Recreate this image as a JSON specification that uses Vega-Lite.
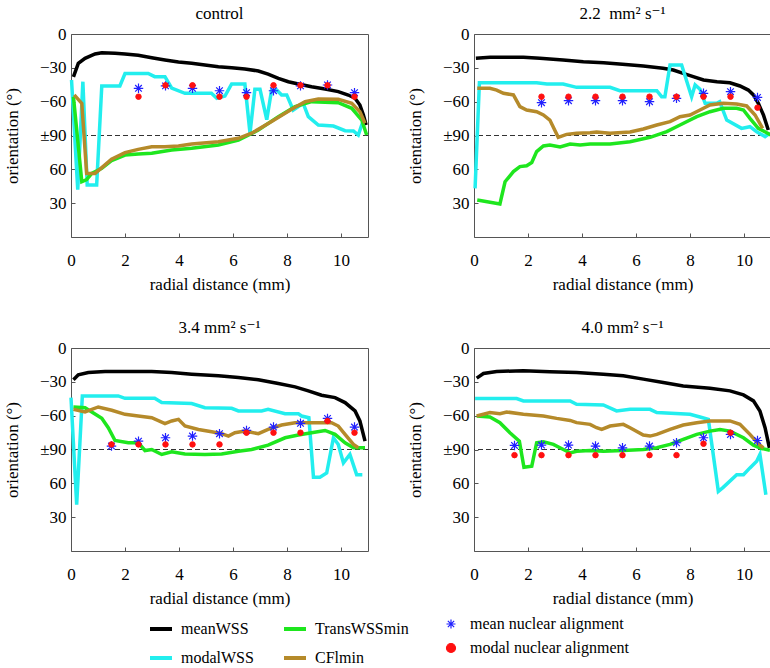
{
"$schema": "https://vega.github.io/schema/vega-lite/v6.json",
"padding": {"left": 2, "top": 4, "right": 5, "bottom": 0},
"config": {
 "font": "Liberation Serif, DejaVu Serif, serif",
 "view": {"stroke": "#555555", "strokeWidth": 1},
 "axis": {"labelFont": "Liberation Serif, DejaVu Serif, serif", "labelFontSize": 17, "titleFont": "Liberation Serif, DejaVu Serif, serif", "titleFontSize": 17, "titleFontWeight": "normal", "labelColor": "#000", "titleColor": "#000", "tickColor": "#555555", "domain": false, "grid": false, "tickSize": -4, "labelOverlap": false, "labelSeparation": 0},
 "axisY": {"labelOverlap": false},
 "axisX": {"labelOverlap": false, "labelFlush": false},
 "axisQuantitative": {"labelOverlap": false},
 "title": {"font": "Liberation Serif, DejaVu Serif, serif", "fontSize": 17, "fontWeight": "normal", "color": "#000", "offset": 2},
 "legend": {"labelFont": "Liberation Serif, DejaVu Serif, serif", "labelFontSize": 16, "labelColor": "#000"}
},
"datasets": {
"L": [
{"p":"c","s":"meanWSS","x":0.09,"d":38},{"p":"c","s":"meanWSS","x":0.27,"d":26},{"p":"c","s":"meanWSS","x":0.52,"d":21.6},{"p":"c","s":"meanWSS","x":0.89,"d":17.7},{"p":"c","s":"meanWSS","x":1.14,"d":16.6},{"p":"c","s":"meanWSS","x":1.63,"d":17.1},{"p":"c","s":"meanWSS","x":2,"d":17.7},{"p":"c","s":"meanWSS","x":2.49,"d":18.9},{"p":"c","s":"meanWSS","x":2.99,"d":21},{"p":"c","s":"meanWSS","x":3.48,"d":23},{"p":"c","s":"meanWSS","x":3.98,"d":24.8},{"p":"c","s":"meanWSS","x":4.47,"d":26},{"p":"c","s":"meanWSS","x":4.96,"d":27.5},{"p":"c","s":"meanWSS","x":5.46,"d":29},{"p":"c","s":"meanWSS","x":5.95,"d":29.9},{"p":"c","s":"meanWSS","x":6.44,"d":31},{"p":"c","s":"meanWSS","x":6.94,"d":32.8},{"p":"c","s":"meanWSS","x":7.3,"d":35.5},{"p":"c","s":"meanWSS","x":7.68,"d":39.3},{"p":"c","s":"meanWSS","x":8.05,"d":42.3},{"p":"c","s":"meanWSS","x":8.42,"d":44.3},{"p":"c","s":"meanWSS","x":8.91,"d":46.7},{"p":"c","s":"meanWSS","x":9.41,"d":48.8},{"p":"c","s":"meanWSS","x":9.9,"d":51.1},{"p":"c","s":"meanWSS","x":10.27,"d":54.1},{"p":"c","s":"meanWSS","x":10.52,"d":57},{"p":"c","s":"meanWSS","x":10.7,"d":63},{"p":"c","s":"meanWSS","x":10.83,"d":71.8},{"p":"c","s":"meanWSS","x":10.93,"d":80.7},
{"p":"c","s":"modalWSS","x":0.02,"d":40.8},{"p":"c","s":"modalWSS","x":0.25,"d":138},{"p":"c","s":"modalWSS","x":0.44,"d":42.3},{"p":"c","s":"modalWSS","x":0.6,"d":134},{"p":"c","s":"modalWSS","x":0.95,"d":134},{"p":"c","s":"modalWSS","x":1.14,"d":46},{"p":"c","s":"modalWSS","x":1.81,"d":46},{"p":"c","s":"modalWSS","x":2,"d":35},{"p":"c","s":"modalWSS","x":2.86,"d":35},{"p":"c","s":"modalWSS","x":3.1,"d":37.8},{"p":"c","s":"modalWSS","x":3.48,"d":37.8},{"p":"c","s":"modalWSS","x":3.73,"d":48},{"p":"c","s":"modalWSS","x":4.22,"d":52.6},{"p":"c","s":"modalWSS","x":5.2,"d":52.6},{"p":"c","s":"modalWSS","x":5.4,"d":57},{"p":"c","s":"modalWSS","x":5.7,"d":55},{"p":"c","s":"modalWSS","x":5.95,"d":44.3},{"p":"c","s":"modalWSS","x":6.44,"d":44.3},{"p":"c","s":"modalWSS","x":6.63,"d":88},{"p":"c","s":"modalWSS","x":6.81,"d":49},{"p":"c","s":"modalWSS","x":7,"d":49},{"p":"c","s":"modalWSS","x":7.25,"d":76},{"p":"c","s":"modalWSS","x":7.43,"d":49.7},{"p":"c","s":"modalWSS","x":7.62,"d":49.7},{"p":"c","s":"modalWSS","x":7.8,"d":54},{"p":"c","s":"modalWSS","x":7.99,"d":54},{"p":"c","s":"modalWSS","x":8.23,"d":67.4},{"p":"c","s":"modalWSS","x":8.6,"d":61.5},{"p":"c","s":"modalWSS","x":8.79,"d":73.3},{"p":"c","s":"modalWSS","x":9.16,"d":80.7},{"p":"c","s":"modalWSS","x":9.72,"d":81.6},{"p":"c","s":"modalWSS","x":10.15,"d":85.7},{"p":"c","s":"modalWSS","x":10.46,"d":86},{"p":"c","s":"modalWSS","x":10.64,"d":89.6},{"p":"c","s":"modalWSS","x":10.83,"d":76.3},
{"p":"c","s":"TransWSSmin","x":0.09,"d":55.6},{"p":"c","s":"TransWSSmin","x":0.4,"d":131},{"p":"c","s":"TransWSSmin","x":0.58,"d":129},{"p":"c","s":"TransWSSmin","x":0.77,"d":123.6},{"p":"c","s":"TransWSSmin","x":1.14,"d":119},{"p":"c","s":"TransWSSmin","x":1.5,"d":112.3},{"p":"c","s":"TransWSSmin","x":2,"d":107.3},{"p":"c","s":"TransWSSmin","x":2.49,"d":106.4},{"p":"c","s":"TransWSSmin","x":2.99,"d":105.8},{"p":"c","s":"TransWSSmin","x":3.73,"d":102.9},{"p":"c","s":"TransWSSmin","x":4.47,"d":101.4},{"p":"c","s":"TransWSSmin","x":5.46,"d":98.4},{"p":"c","s":"TransWSSmin","x":6.2,"d":94},{"p":"c","s":"TransWSSmin","x":6.94,"d":85.1},{"p":"c","s":"TransWSSmin","x":7.68,"d":73.3},{"p":"c","s":"TransWSSmin","x":8.3,"d":64.4},{"p":"c","s":"TransWSSmin","x":8.91,"d":60},{"p":"c","s":"TransWSSmin","x":9.9,"d":60.9},{"p":"c","s":"TransWSSmin","x":10.4,"d":65.9},{"p":"c","s":"TransWSSmin","x":10.77,"d":76.3},{"p":"c","s":"TransWSSmin","x":10.95,"d":89.6},
{"p":"c","s":"CFlmin","x":0.12,"d":54},{"p":"c","s":"CFlmin","x":0.4,"d":61.5},{"p":"c","s":"CFlmin","x":0.58,"d":123.6},{"p":"c","s":"CFlmin","x":0.89,"d":123.6},{"p":"c","s":"CFlmin","x":1.26,"d":116},{"p":"c","s":"CFlmin","x":1.5,"d":111},{"p":"c","s":"CFlmin","x":2,"d":105.2},{"p":"c","s":"CFlmin","x":2.49,"d":102.3},{"p":"c","s":"CFlmin","x":2.99,"d":100},{"p":"c","s":"CFlmin","x":3.48,"d":100},{"p":"c","s":"CFlmin","x":3.98,"d":99.3},{"p":"c","s":"CFlmin","x":4.47,"d":97.5},{"p":"c","s":"CFlmin","x":5.46,"d":95.5},{"p":"c","s":"CFlmin","x":6.2,"d":92.5},{"p":"c","s":"CFlmin","x":6.69,"d":88},{"p":"c","s":"CFlmin","x":7.43,"d":77.6},{"p":"c","s":"CFlmin","x":8.17,"d":66.8},{"p":"c","s":"CFlmin","x":8.67,"d":60},{"p":"c","s":"CFlmin","x":9.16,"d":57.6},{"p":"c","s":"CFlmin","x":9.9,"d":57.9},{"p":"c","s":"CFlmin","x":10.4,"d":61.5},{"p":"c","s":"CFlmin","x":10.7,"d":68.9},{"p":"c","s":"CFlmin","x":10.89,"d":79.2},
{"p":"2.2","s":"meanWSS","x":0.07,"d":21.6},{"p":"2.2","s":"meanWSS","x":0.6,"d":20.7},{"p":"2.2","s":"meanWSS","x":1.83,"d":20.7},{"p":"2.2","s":"meanWSS","x":2.44,"d":21.6},{"p":"2.2","s":"meanWSS","x":3.3,"d":23},{"p":"2.2","s":"meanWSS","x":4.05,"d":24.5},{"p":"2.2","s":"meanWSS","x":4.8,"d":25.4},{"p":"2.2","s":"meanWSS","x":5.5,"d":26.9},{"p":"2.2","s":"meanWSS","x":6.27,"d":28.4},{"p":"2.2","s":"meanWSS","x":7,"d":30.4},{"p":"2.2","s":"meanWSS","x":7.38,"d":31.9},{"p":"2.2","s":"meanWSS","x":7.75,"d":34.9},{"p":"2.2","s":"meanWSS","x":8.12,"d":37.8},{"p":"2.2","s":"meanWSS","x":8.5,"d":40.8},{"p":"2.2","s":"meanWSS","x":9,"d":42.3},{"p":"2.2","s":"meanWSS","x":9.48,"d":43.2},{"p":"2.2","s":"meanWSS","x":9.85,"d":46.1},{"p":"2.2","s":"meanWSS","x":10.16,"d":49.7},{"p":"2.2","s":"meanWSS","x":10.35,"d":54},{"p":"2.2","s":"meanWSS","x":10.53,"d":61.5},{"p":"2.2","s":"meanWSS","x":10.72,"d":71.8},{"p":"2.2","s":"meanWSS","x":10.9,"d":85.1},
{"p":"2.2","s":"modalWSS","x":0.04,"d":136.9},{"p":"2.2","s":"modalWSS","x":0.2,"d":43.2},{"p":"2.2","s":"modalWSS","x":2.32,"d":43.2},{"p":"2.2","s":"modalWSS","x":2.7,"d":44.3},{"p":"2.2","s":"modalWSS","x":3.3,"d":44.3},{"p":"2.2","s":"modalWSS","x":3.8,"d":47.3},{"p":"2.2","s":"modalWSS","x":5.04,"d":47.3},{"p":"2.2","s":"modalWSS","x":5.4,"d":50.3},{"p":"2.2","s":"modalWSS","x":6.77,"d":50.3},{"p":"2.2","s":"modalWSS","x":6.95,"d":55.6},{"p":"2.2","s":"modalWSS","x":7.07,"d":55.6},{"p":"2.2","s":"modalWSS","x":7.26,"d":27.5},{"p":"2.2","s":"modalWSS","x":7.69,"d":27.5},{"p":"2.2","s":"modalWSS","x":8.06,"d":55.6},{"p":"2.2","s":"modalWSS","x":8.19,"d":45.2},{"p":"2.2","s":"modalWSS","x":8.37,"d":49},{"p":"2.2","s":"modalWSS","x":8.56,"d":61.5},{"p":"2.2","s":"modalWSS","x":8.99,"d":61.5},{"p":"2.2","s":"modalWSS","x":9.1,"d":60},{"p":"2.2","s":"modalWSS","x":9.36,"d":76.3},{"p":"2.2","s":"modalWSS","x":9.91,"d":83.7},{"p":"2.2","s":"modalWSS","x":10.22,"d":82.2},{"p":"2.2","s":"modalWSS","x":10.47,"d":86.6},{"p":"2.2","s":"modalWSS","x":10.78,"d":91},{"p":"2.2","s":"modalWSS","x":10.96,"d":88},
{"p":"2.2","s":"TransWSSmin","x":0.12,"d":147.2},{"p":"2.2","s":"TransWSSmin","x":0.96,"d":150.7},{"p":"2.2","s":"TransWSSmin","x":1.15,"d":131},{"p":"2.2","s":"TransWSSmin","x":1.46,"d":122},{"p":"2.2","s":"TransWSSmin","x":1.7,"d":117.6},{"p":"2.2","s":"TransWSSmin","x":1.95,"d":116.8},{"p":"2.2","s":"TransWSSmin","x":2.14,"d":114},{"p":"2.2","s":"TransWSSmin","x":2.32,"d":104.3},{"p":"2.2","s":"TransWSSmin","x":2.57,"d":99.3},{"p":"2.2","s":"TransWSSmin","x":2.81,"d":98.4},{"p":"2.2","s":"TransWSSmin","x":3.19,"d":100.2},{"p":"2.2","s":"TransWSSmin","x":3.56,"d":97.5},{"p":"2.2","s":"TransWSSmin","x":3.93,"d":98.4},{"p":"2.2","s":"TransWSSmin","x":4.3,"d":97.5},{"p":"2.2","s":"TransWSSmin","x":5.04,"d":97.5},{"p":"2.2","s":"TransWSSmin","x":5.78,"d":95.5},{"p":"2.2","s":"TransWSSmin","x":6.52,"d":91.6},{"p":"2.2","s":"TransWSSmin","x":7.14,"d":86.6},{"p":"2.2","s":"TransWSSmin","x":7.63,"d":80.7},{"p":"2.2","s":"TransWSSmin","x":8.25,"d":73.3},{"p":"2.2","s":"TransWSSmin","x":8.74,"d":68.9},{"p":"2.2","s":"TransWSSmin","x":9.23,"d":65.9},{"p":"2.2","s":"TransWSSmin","x":9.73,"d":65.9},{"p":"2.2","s":"TransWSSmin","x":9.98,"d":67.4},{"p":"2.2","s":"TransWSSmin","x":10.22,"d":74.8},{"p":"2.2","s":"TransWSSmin","x":10.53,"d":83.7},{"p":"2.2","s":"TransWSSmin","x":10.84,"d":87.5},{"p":"2.2","s":"TransWSSmin","x":11,"d":89.6},
{"p":"2.2","s":"CFlmin","x":0.12,"d":48.2},{"p":"2.2","s":"CFlmin","x":0.59,"d":48.2},{"p":"2.2","s":"CFlmin","x":0.84,"d":49.7},{"p":"2.2","s":"CFlmin","x":1.09,"d":52.6},{"p":"2.2","s":"CFlmin","x":1.46,"d":54},{"p":"2.2","s":"CFlmin","x":1.7,"d":64.4},{"p":"2.2","s":"CFlmin","x":1.95,"d":67.4},{"p":"2.2","s":"CFlmin","x":2.32,"d":68.9},{"p":"2.2","s":"CFlmin","x":2.57,"d":71.8},{"p":"2.2","s":"CFlmin","x":2.81,"d":76.3},{"p":"2.2","s":"CFlmin","x":3.12,"d":91.6},{"p":"2.2","s":"CFlmin","x":3.43,"d":89},{"p":"2.2","s":"CFlmin","x":3.8,"d":88},{"p":"2.2","s":"CFlmin","x":4.3,"d":87.5},{"p":"2.2","s":"CFlmin","x":4.54,"d":86.9},{"p":"2.2","s":"CFlmin","x":5.04,"d":88},{"p":"2.2","s":"CFlmin","x":5.78,"d":86.9},{"p":"2.2","s":"CFlmin","x":6.27,"d":84.2},{"p":"2.2","s":"CFlmin","x":6.77,"d":80.7},{"p":"2.2","s":"CFlmin","x":7.26,"d":77.7},{"p":"2.2","s":"CFlmin","x":7.63,"d":73.3},{"p":"2.2","s":"CFlmin","x":8,"d":71.8},{"p":"2.2","s":"CFlmin","x":8.37,"d":67.4},{"p":"2.2","s":"CFlmin","x":8.74,"d":63},{"p":"2.2","s":"CFlmin","x":9.23,"d":61.5},{"p":"2.2","s":"CFlmin","x":9.73,"d":62},{"p":"2.2","s":"CFlmin","x":10.1,"d":63.8},{"p":"2.2","s":"CFlmin","x":10.41,"d":71.8},{"p":"2.2","s":"CFlmin","x":10.69,"d":83.7},
{"p":"3.4","s":"meanWSS","x":0.09,"d":28.2},{"p":"3.4","s":"meanWSS","x":0.27,"d":23.8},{"p":"3.4","s":"meanWSS","x":0.64,"d":21.7},{"p":"3.4","s":"meanWSS","x":1.26,"d":20.8},{"p":"3.4","s":"meanWSS","x":2,"d":20.8},{"p":"3.4","s":"meanWSS","x":2.99,"d":20.8},{"p":"3.4","s":"meanWSS","x":3.73,"d":21.7},{"p":"3.4","s":"meanWSS","x":4.47,"d":23.2},{"p":"3.4","s":"meanWSS","x":5.46,"d":24.7},{"p":"3.4","s":"meanWSS","x":6.2,"d":26.1},{"p":"3.4","s":"meanWSS","x":6.94,"d":28.2},{"p":"3.4","s":"meanWSS","x":7.68,"d":31.5},{"p":"3.4","s":"meanWSS","x":8.3,"d":34.5},{"p":"3.4","s":"meanWSS","x":8.79,"d":38},{"p":"3.4","s":"meanWSS","x":9.28,"d":41.9},{"p":"3.4","s":"meanWSS","x":9.78,"d":44},{"p":"3.4","s":"meanWSS","x":10.15,"d":48.4},{"p":"3.4","s":"meanWSS","x":10.52,"d":55.8},{"p":"3.4","s":"meanWSS","x":10.7,"d":64.7},{"p":"3.4","s":"meanWSS","x":10.89,"d":82.6},
{"p":"3.4","s":"modalWSS","x":0,"d":44},{"p":"3.4","s":"modalWSS","x":0.21,"d":139},{"p":"3.4","s":"modalWSS","x":0.42,"d":42.5},{"p":"3.4","s":"modalWSS","x":1.75,"d":42.5},{"p":"3.4","s":"modalWSS","x":2,"d":44.6},{"p":"3.4","s":"modalWSS","x":3.1,"d":44.6},{"p":"3.4","s":"modalWSS","x":3.36,"d":48.4},{"p":"3.4","s":"modalWSS","x":4.47,"d":49.3},{"p":"3.4","s":"modalWSS","x":4.96,"d":52.9},{"p":"3.4","s":"modalWSS","x":5.95,"d":53.5},{"p":"3.4","s":"modalWSS","x":6.2,"d":55.8},{"p":"3.4","s":"modalWSS","x":7.06,"d":55.8},{"p":"3.4","s":"modalWSS","x":7.3,"d":54.4},{"p":"3.4","s":"modalWSS","x":7.93,"d":58.2},{"p":"3.4","s":"modalWSS","x":8.42,"d":58.2},{"p":"3.4","s":"modalWSS","x":8.54,"d":60.3},{"p":"3.4","s":"modalWSS","x":8.81,"d":61.8},{"p":"3.4","s":"modalWSS","x":8.98,"d":114.6},{"p":"3.4","s":"modalWSS","x":9.22,"d":114.6},{"p":"3.4","s":"modalWSS","x":9.47,"d":110.8},{"p":"3.4","s":"modalWSS","x":9.72,"d":79.6},{"p":"3.4","s":"modalWSS","x":9.9,"d":85.5},{"p":"3.4","s":"modalWSS","x":10.09,"d":101.9},{"p":"3.4","s":"modalWSS","x":10.33,"d":94.4},{"p":"3.4","s":"modalWSS","x":10.58,"d":112.3},{"p":"3.4","s":"modalWSS","x":10.79,"d":112.3},
{"p":"3.4","s":"TransWSSmin","x":0.09,"d":52.3},{"p":"3.4","s":"TransWSSmin","x":0.52,"d":52.9},{"p":"3.4","s":"TransWSSmin","x":1.14,"d":62.4},{"p":"3.4","s":"TransWSSmin","x":1.38,"d":70.7},{"p":"3.4","s":"TransWSSmin","x":1.63,"d":82},{"p":"3.4","s":"TransWSSmin","x":2.12,"d":84},{"p":"3.4","s":"TransWSSmin","x":2.49,"d":84},{"p":"3.4","s":"TransWSSmin","x":2.74,"d":90.9},{"p":"3.4","s":"TransWSSmin","x":2.99,"d":90},{"p":"3.4","s":"TransWSSmin","x":3.36,"d":94.4},{"p":"3.4","s":"TransWSSmin","x":3.73,"d":92.1},{"p":"3.4","s":"TransWSSmin","x":4.22,"d":93.9},{"p":"3.4","s":"TransWSSmin","x":4.96,"d":94.4},{"p":"3.4","s":"TransWSSmin","x":5.58,"d":93.9},{"p":"3.4","s":"TransWSSmin","x":6.2,"d":91.5},{"p":"3.4","s":"TransWSSmin","x":6.69,"d":90},{"p":"3.4","s":"TransWSSmin","x":7.3,"d":86.1},{"p":"3.4","s":"TransWSSmin","x":7.93,"d":79.6},{"p":"3.4","s":"TransWSSmin","x":8.42,"d":77.2},{"p":"3.4","s":"TransWSSmin","x":8.91,"d":75.1},{"p":"3.4","s":"TransWSSmin","x":9.41,"d":73.1},{"p":"3.4","s":"TransWSSmin","x":9.78,"d":76.6},{"p":"3.4","s":"TransWSSmin","x":10.15,"d":84},{"p":"3.4","s":"TransWSSmin","x":10.46,"d":88.5},{"p":"3.4","s":"TransWSSmin","x":10.89,"d":88.5},
{"p":"3.4","s":"CFlmin","x":0.09,"d":54.4},{"p":"3.4","s":"CFlmin","x":0.52,"d":56.7},{"p":"3.4","s":"CFlmin","x":1.01,"d":52.3},{"p":"3.4","s":"CFlmin","x":1.51,"d":55.2},{"p":"3.4","s":"CFlmin","x":2,"d":58.8},{"p":"3.4","s":"CFlmin","x":2.49,"d":60.3},{"p":"3.4","s":"CFlmin","x":2.99,"d":61.8},{"p":"3.4","s":"CFlmin","x":3.48,"d":67.1},{"p":"3.4","s":"CFlmin","x":3.73,"d":64.7},{"p":"3.4","s":"CFlmin","x":3.98,"d":63.3},{"p":"3.4","s":"CFlmin","x":4.22,"d":69.2},{"p":"3.4","s":"CFlmin","x":4.72,"d":72.2},{"p":"3.4","s":"CFlmin","x":5.21,"d":74.3},{"p":"3.4","s":"CFlmin","x":5.58,"d":76},{"p":"3.4","s":"CFlmin","x":5.83,"d":78.1},{"p":"3.4","s":"CFlmin","x":6.07,"d":75.1},{"p":"3.4","s":"CFlmin","x":6.44,"d":73.7},{"p":"3.4","s":"CFlmin","x":6.94,"d":76},{"p":"3.4","s":"CFlmin","x":7.3,"d":72.2},{"p":"3.4","s":"CFlmin","x":7.8,"d":68.3},{"p":"3.4","s":"CFlmin","x":8.3,"d":66.2},{"p":"3.4","s":"CFlmin","x":8.91,"d":66.2},{"p":"3.4","s":"CFlmin","x":9.65,"d":66.2},{"p":"3.4","s":"CFlmin","x":9.9,"d":69.2},{"p":"3.4","s":"CFlmin","x":10.15,"d":76.6},{"p":"3.4","s":"CFlmin","x":10.46,"d":85.5},{"p":"3.4","s":"CFlmin","x":10.64,"d":88.5},
{"p":"4.0","s":"meanWSS","x":0.1,"d":26.7},{"p":"4.0","s":"meanWSS","x":0.35,"d":22.6},{"p":"4.0","s":"meanWSS","x":0.84,"d":20.8},{"p":"4.0","s":"meanWSS","x":1.83,"d":20.2},{"p":"4.0","s":"meanWSS","x":2.81,"d":21.1},{"p":"4.0","s":"meanWSS","x":3.8,"d":21.7},{"p":"4.0","s":"meanWSS","x":4.79,"d":23.2},{"p":"4.0","s":"meanWSS","x":5.53,"d":24.7},{"p":"4.0","s":"meanWSS","x":6.27,"d":27.6},{"p":"4.0","s":"meanWSS","x":7.01,"d":30.6},{"p":"4.0","s":"meanWSS","x":7.75,"d":33.6},{"p":"4.0","s":"meanWSS","x":8.74,"d":35.6},{"p":"4.0","s":"meanWSS","x":9.48,"d":38},{"p":"4.0","s":"meanWSS","x":9.98,"d":41.6},{"p":"4.0","s":"meanWSS","x":10.35,"d":46.9},{"p":"4.0","s":"meanWSS","x":10.59,"d":55.8},{"p":"4.0","s":"meanWSS","x":10.78,"d":70.7},{"p":"4.0","s":"meanWSS","x":10.94,"d":88.5},
{"p":"4.0","s":"modalWSS","x":0.04,"d":44.8},{"p":"4.0","s":"modalWSS","x":1.58,"d":44.8},{"p":"4.0","s":"modalWSS","x":1.83,"d":46.9},{"p":"4.0","s":"modalWSS","x":3.56,"d":46.9},{"p":"4.0","s":"modalWSS","x":3.8,"d":49.9},{"p":"4.0","s":"modalWSS","x":4.79,"d":50.5},{"p":"4.0","s":"modalWSS","x":5.28,"d":55.8},{"p":"4.0","s":"modalWSS","x":5.78,"d":54.4},{"p":"4.0","s":"modalWSS","x":6.52,"d":54.4},{"p":"4.0","s":"modalWSS","x":6.77,"d":57.3},{"p":"4.0","s":"modalWSS","x":8,"d":58.8},{"p":"4.0","s":"modalWSS","x":8.37,"d":61.2},{"p":"4.0","s":"modalWSS","x":8.68,"d":63.3},{"p":"4.0","s":"modalWSS","x":9.05,"d":127.1},{"p":"4.0","s":"modalWSS","x":9.23,"d":123.6},{"p":"4.0","s":"modalWSS","x":9.73,"d":112.3},{"p":"4.0","s":"modalWSS","x":9.98,"d":112.3},{"p":"4.0","s":"modalWSS","x":10.22,"d":106.3},{"p":"4.0","s":"modalWSS","x":10.47,"d":100.4},{"p":"4.0","s":"modalWSS","x":10.59,"d":94.4},{"p":"4.0","s":"modalWSS","x":10.81,"d":130.1},
{"p":"4.0","s":"TransWSSmin","x":0.1,"d":60.3},{"p":"4.0","s":"TransWSSmin","x":0.59,"d":61.2},{"p":"4.0","s":"TransWSSmin","x":0.96,"d":66.2},{"p":"4.0","s":"TransWSSmin","x":1.33,"d":75.1},{"p":"4.0","s":"TransWSSmin","x":1.68,"d":82.6},{"p":"4.0","s":"TransWSSmin","x":1.85,"d":105.7},{"p":"4.0","s":"TransWSSmin","x":2.14,"d":104.8},{"p":"4.0","s":"TransWSSmin","x":2.32,"d":84},{"p":"4.0","s":"TransWSSmin","x":2.57,"d":83.2},{"p":"4.0","s":"TransWSSmin","x":2.94,"d":85.5},{"p":"4.0","s":"TransWSSmin","x":3.31,"d":90},{"p":"4.0","s":"TransWSSmin","x":3.56,"d":93},{"p":"4.0","s":"TransWSSmin","x":3.8,"d":91.5},{"p":"4.0","s":"TransWSSmin","x":4.3,"d":90.9},{"p":"4.0","s":"TransWSSmin","x":4.79,"d":91.5},{"p":"4.0","s":"TransWSSmin","x":5.53,"d":90.9},{"p":"4.0","s":"TransWSSmin","x":6.27,"d":90},{"p":"4.0","s":"TransWSSmin","x":6.77,"d":88.5},{"p":"4.0","s":"TransWSSmin","x":7.26,"d":85.5},{"p":"4.0","s":"TransWSSmin","x":7.75,"d":81.1},{"p":"4.0","s":"TransWSSmin","x":8.25,"d":76.6},{"p":"4.0","s":"TransWSSmin","x":8.74,"d":73.7},{"p":"4.0","s":"TransWSSmin","x":9.11,"d":72.2},{"p":"4.0","s":"TransWSSmin","x":9.48,"d":73.7},{"p":"4.0","s":"TransWSSmin","x":9.98,"d":79.6},{"p":"4.0","s":"TransWSSmin","x":10.35,"d":86.1},{"p":"4.0","s":"TransWSSmin","x":10.65,"d":89.1},{"p":"4.0","s":"TransWSSmin","x":10.96,"d":90.6},
{"p":"4.0","s":"CFlmin","x":0.1,"d":60.3},{"p":"4.0","s":"CFlmin","x":0.59,"d":57.3},{"p":"4.0","s":"CFlmin","x":0.96,"d":58.2},{"p":"4.0","s":"CFlmin","x":1.21,"d":56.7},{"p":"4.0","s":"CFlmin","x":1.83,"d":58.8},{"p":"4.0","s":"CFlmin","x":2.57,"d":60.3},{"p":"4.0","s":"CFlmin","x":3.06,"d":62.4},{"p":"4.0","s":"CFlmin","x":3.56,"d":64.2},{"p":"4.0","s":"CFlmin","x":3.8,"d":66.2},{"p":"4.0","s":"CFlmin","x":4.3,"d":67.7},{"p":"4.0","s":"CFlmin","x":4.54,"d":70.7},{"p":"4.0","s":"CFlmin","x":4.73,"d":72.2},{"p":"4.0","s":"CFlmin","x":5.04,"d":69.2},{"p":"4.0","s":"CFlmin","x":5.53,"d":67.7},{"p":"4.0","s":"CFlmin","x":5.78,"d":70.7},{"p":"4.0","s":"CFlmin","x":6.27,"d":77.2},{"p":"4.0","s":"CFlmin","x":6.52,"d":78.1},{"p":"4.0","s":"CFlmin","x":6.77,"d":76.6},{"p":"4.0","s":"CFlmin","x":7.26,"d":72.2},{"p":"4.0","s":"CFlmin","x":7.75,"d":68.3},{"p":"4.0","s":"CFlmin","x":8.25,"d":66.2},{"p":"4.0","s":"CFlmin","x":8.74,"d":64.7},{"p":"4.0","s":"CFlmin","x":9.48,"d":64.7},{"p":"4.0","s":"CFlmin","x":9.85,"d":67.7},{"p":"4.0","s":"CFlmin","x":10.22,"d":76.6},{"p":"4.0","s":"CFlmin","x":10.53,"d":84.9},{"p":"4.0","s":"CFlmin","x":10.72,"d":88.5}
],
"P": [
{"p":"c","s":"mean nuclear alignment","x":2.5,"d":48.2},{"p":"c","s":"mean nuclear alignment","x":3.5,"d":46},{"p":"c","s":"mean nuclear alignment","x":4.5,"d":48.2},{"p":"c","s":"mean nuclear alignment","x":5.5,"d":50.3},{"p":"c","s":"mean nuclear alignment","x":6.5,"d":52},{"p":"c","s":"mean nuclear alignment","x":7.5,"d":50.3},{"p":"c","s":"mean nuclear alignment","x":8.5,"d":46},{"p":"c","s":"mean nuclear alignment","x":9.5,"d":45.2},{"p":"c","s":"mean nuclear alignment","x":10.5,"d":52},
{"p":"c","s":"modal nuclear alignment","x":2.5,"d":55.6},{"p":"c","s":"modal nuclear alignment","x":3.5,"d":45.5},{"p":"c","s":"modal nuclear alignment","x":4.5,"d":45.5},{"p":"c","s":"modal nuclear alignment","x":5.5,"d":55.6},{"p":"c","s":"modal nuclear alignment","x":6.5,"d":55.6},{"p":"c","s":"modal nuclear alignment","x":7.5,"d":45.5},{"p":"c","s":"modal nuclear alignment","x":8.5,"d":45.5},{"p":"c","s":"modal nuclear alignment","x":9.5,"d":45.5},{"p":"c","s":"modal nuclear alignment","x":10.5,"d":55.6},
{"p":"2.2","s":"mean nuclear alignment","x":2.5,"d":60.9},{"p":"2.2","s":"mean nuclear alignment","x":3.5,"d":59.1},{"p":"2.2","s":"mean nuclear alignment","x":4.5,"d":59.1},{"p":"2.2","s":"mean nuclear alignment","x":5.5,"d":59.1},{"p":"2.2","s":"mean nuclear alignment","x":6.5,"d":60},{"p":"2.2","s":"mean nuclear alignment","x":7.5,"d":57},{"p":"2.2","s":"mean nuclear alignment","x":8.5,"d":52.6},{"p":"2.2","s":"mean nuclear alignment","x":9.5,"d":51.1},{"p":"2.2","s":"mean nuclear alignment","x":10.5,"d":56.2},
{"p":"2.2","s":"modal nuclear alignment","x":2.5,"d":55.6},{"p":"2.2","s":"modal nuclear alignment","x":3.5,"d":55.6},{"p":"2.2","s":"modal nuclear alignment","x":4.5,"d":55.6},{"p":"2.2","s":"modal nuclear alignment","x":5.5,"d":55.6},{"p":"2.2","s":"modal nuclear alignment","x":6.5,"d":55.6},{"p":"2.2","s":"modal nuclear alignment","x":7.5,"d":55.6},{"p":"2.2","s":"modal nuclear alignment","x":8.5,"d":55.6},{"p":"2.2","s":"modal nuclear alignment","x":9.5,"d":55.6},{"p":"2.2","s":"modal nuclear alignment","x":10.5,"d":65.3},
{"p":"3.4","s":"mean nuclear alignment","x":1.5,"d":87},{"p":"3.4","s":"mean nuclear alignment","x":2.5,"d":82.6},{"p":"3.4","s":"mean nuclear alignment","x":3.5,"d":79.6},{"p":"3.4","s":"mean nuclear alignment","x":4.5,"d":78.1},{"p":"3.4","s":"mean nuclear alignment","x":5.5,"d":76},{"p":"3.4","s":"mean nuclear alignment","x":6.5,"d":73.1},{"p":"3.4","s":"mean nuclear alignment","x":7.5,"d":70.1},{"p":"3.4","s":"mean nuclear alignment","x":8.5,"d":66.8},{"p":"3.4","s":"mean nuclear alignment","x":9.5,"d":62.4},{"p":"3.4","s":"mean nuclear alignment","x":10.5,"d":70.1},
{"p":"3.4","s":"modal nuclear alignment","x":1.5,"d":85.5},{"p":"3.4","s":"modal nuclear alignment","x":2.5,"d":85.5},{"p":"3.4","s":"modal nuclear alignment","x":3.5,"d":85.5},{"p":"3.4","s":"modal nuclear alignment","x":4.5,"d":85.5},{"p":"3.4","s":"modal nuclear alignment","x":5.5,"d":85.5},{"p":"3.4","s":"modal nuclear alignment","x":6.5,"d":75.1},{"p":"3.4","s":"modal nuclear alignment","x":7.5,"d":75.1},{"p":"3.4","s":"modal nuclear alignment","x":8.5,"d":75.1},{"p":"3.4","s":"modal nuclear alignment","x":9.5,"d":64.7},{"p":"3.4","s":"modal nuclear alignment","x":10.5,"d":75.1},
{"p":"4.0","s":"mean nuclear alignment","x":1.5,"d":86.4},{"p":"4.0","s":"mean nuclear alignment","x":2.5,"d":86.1},{"p":"4.0","s":"mean nuclear alignment","x":3.5,"d":86.1},{"p":"4.0","s":"mean nuclear alignment","x":4.5,"d":87},{"p":"4.0","s":"mean nuclear alignment","x":5.5,"d":88.5},{"p":"4.0","s":"mean nuclear alignment","x":6.5,"d":87},{"p":"4.0","s":"mean nuclear alignment","x":7.5,"d":84},{"p":"4.0","s":"mean nuclear alignment","x":8.5,"d":79.6},{"p":"4.0","s":"mean nuclear alignment","x":9.5,"d":76.6},{"p":"4.0","s":"mean nuclear alignment","x":10.5,"d":82},
{"p":"4.0","s":"modal nuclear alignment","x":1.5,"d":95},{"p":"4.0","s":"modal nuclear alignment","x":2.5,"d":95},{"p":"4.0","s":"modal nuclear alignment","x":3.5,"d":95},{"p":"4.0","s":"modal nuclear alignment","x":4.5,"d":95},{"p":"4.0","s":"modal nuclear alignment","x":5.5,"d":95},{"p":"4.0","s":"modal nuclear alignment","x":6.5,"d":95},{"p":"4.0","s":"modal nuclear alignment","x":7.5,"d":95},{"p":"4.0","s":"modal nuclear alignment","x":8.5,"d":84.9},{"p":"4.0","s":"modal nuclear alignment","x":9.5,"d":75.1}
]
},
"columns": 2,
"spacing": {"row": 25, "column": 30},
"resolve": {"scale": {"color": "shared", "shape": "shared", "stroke": "shared", "fill": "shared"}, "legend": {"color": "shared", "shape": "shared", "stroke": "shared", "fill": "shared"}},
"concat": [
 {"title": {"text": "control"}, "width": 297, "height": 203, "layer": [
  {"data": {"values": [{"d": 90}]}, "mark": {"type": "rule", "color": "#333", "strokeDash": [5, 3], "strokeWidth": 1}, "encoding": {"y": {"field": "d", "type": "quantitative", "scale": {"domain": [0, 180], "reverse": true, "nice": false}, "axis": {"values": [0, 30, 60, 90, 120, 150], "labelOverlap": false, "labelExpr": "datum.value == 0 ? '0' : datum.value == 90 ? '±90' : datum.value < 90 ? '−' + datum.value : '' + (180 - datum.value)", "labelPadding": 9, "title": "orientation (°)", "titlePadding": 18}}}},
  {"data": {"name": "L"}, "transform": [{"filter": "datum.p == 'c'"}], "mark": {"type": "line", "strokeWidth": 3.5}, "encoding": {
   "x": {"field": "x", "type": "quantitative", "scale": {"domain": [0, 11], "nice": false, "zero": false}, "axis": {"values": [0, 2, 4, 6, 8, 10], "labelOverlap": false, "labelFlush": false, "title": "radial distance (mm)", "labelPadding": 19, "titlePadding": 8}},
   "y": {"field": "d", "type": "quantitative", "scale": {"domain": [0, 180], "reverse": true, "nice": false}, "axis": {"values": [0, 30, 60, 90, 120, 150], "labelOverlap": false, "labelExpr": "datum.value == 0 ? '0' : datum.value == 90 ? '±90' : datum.value < 90 ? '−' + datum.value : '' + (180 - datum.value)", "labelPadding": 9, "title": "orientation (°)", "titlePadding": 18}},
   "color": {"field": "s", "type": "nominal", "scale": {"domain": ["meanWSS", "modalWSS", "TransWSSmin", "CFlmin"], "range": ["#000000", "#22eeee", "#1ee61e", "#b58a2a"]}, "legend": {"orient": "none", "legendX": 77, "legendY": 582, "columns": 2, "title": null, "columnPadding": 22, "rowPadding": 8, "labelLimit": 300, "labelOffset": 7, "symbolType": "stroke", "symbolSize": 484, "symbolStrokeWidth": 4}}
  }},
  {"data": {"name": "P"}, "transform": [{"filter": "datum.p == 'c' && datum.s == 'mean nuclear alignment'"}], "mark": {"type": "point", "size": 90, "strokeWidth": 1.2, "opacity": 1}, "encoding": {"x": {"field": "x", "type": "quantitative"}, "y": {"field": "d", "type": "quantitative"},
   "shape": {"field": "s", "type": "nominal", "scale": {"domain": ["mean nuclear alignment", "modal nuclear alignment"], "range": ["M-1,0L1,0M0,-1L0,1M-0.7,-0.7L0.7,0.7M-0.7,0.7L0.7,-0.7", "circle"]}, "legend": {"orient": "none", "legendX": 372, "legendY": 582, "title": null, "rowPadding": 8, "labelLimit": 300, "labelOffset": 11, "symbolSize": 81, "symbolStrokeWidth": 1.2}},
   "stroke": {"field": "s", "type": "nominal", "scale": {"domain": ["mean nuclear alignment", "modal nuclear alignment"], "range": ["#2020ff", "#ff1010"]}},
   "fill": {"field": "s", "type": "nominal", "scale": {"domain": ["mean nuclear alignment", "modal nuclear alignment"], "range": ["#2020ff", "#ff1010"]}}}},
  {"data": {"name": "P"}, "transform": [{"filter": "datum.p == 'c' && datum.s == 'modal nuclear alignment'"}], "mark": {"type": "point", "size": 30, "strokeWidth": 1, "opacity": 1}, "encoding": {"x": {"field": "x", "type": "quantitative"}, "y": {"field": "d", "type": "quantitative"},
   "shape": {"field": "s", "type": "nominal", "scale": {"domain": ["mean nuclear alignment", "modal nuclear alignment"], "range": ["M-1,0L1,0M0,-1L0,1M-0.7,-0.7L0.7,0.7M-0.7,0.7L0.7,-0.7", "circle"]}},
   "stroke": {"field": "s", "type": "nominal", "scale": {"domain": ["mean nuclear alignment", "modal nuclear alignment"], "range": ["#2020ff", "#ff1010"]}},
   "fill": {"field": "s", "type": "nominal", "scale": {"domain": ["mean nuclear alignment", "modal nuclear alignment"], "range": ["#2020ff", "#ff1010"]}}}}
 ]},
 {"title": {"text": "2.2\u00a0 mm² s⁻¹"}, "width": 297, "height": 203, "layer": [
  {"data": {"values": [{"d": 90}]}, "mark": {"type": "rule", "color": "#333", "strokeDash": [5, 3], "strokeWidth": 1}, "encoding": {"y": {"field": "d", "type": "quantitative", "scale": {"domain": [0, 180], "reverse": true, "nice": false}, "axis": {"values": [0, 30, 60, 90, 120, 150], "labelOverlap": false, "labelExpr": "datum.value == 0 ? '0' : datum.value == 90 ? '±90' : datum.value < 90 ? '−' + datum.value : '' + (180 - datum.value)", "labelPadding": 9, "title": "orientation (°)", "titlePadding": 18}}}},
  {"data": {"name": "L"}, "transform": [{"filter": "datum.p == '2.2'"}], "mark": {"type": "line", "strokeWidth": 3.5}, "encoding": {
   "x": {"field": "x", "type": "quantitative", "scale": {"domain": [0, 11], "nice": false, "zero": false}, "axis": {"values": [0, 2, 4, 6, 8, 10], "labelOverlap": false, "labelFlush": false, "title": "radial distance (mm)", "labelPadding": 19, "titlePadding": 8}},
   "y": {"field": "d", "type": "quantitative", "scale": {"domain": [0, 180], "reverse": true, "nice": false}, "axis": {"values": [0, 30, 60, 90, 120, 150], "labelOverlap": false, "labelExpr": "datum.value == 0 ? '0' : datum.value == 90 ? '±90' : datum.value < 90 ? '−' + datum.value : '' + (180 - datum.value)", "labelPadding": 9, "title": "orientation (°)", "titlePadding": 18}},
   "color": {"field": "s", "type": "nominal", "scale": {"domain": ["meanWSS", "modalWSS", "TransWSSmin", "CFlmin"], "range": ["#000000", "#22eeee", "#1ee61e", "#b58a2a"]}}
  }},
  {"data": {"name": "P"}, "transform": [{"filter": "datum.p == '2.2' && datum.s == 'mean nuclear alignment'"}], "mark": {"type": "point", "size": 90, "strokeWidth": 1.2, "opacity": 1}, "encoding": {"x": {"field": "x", "type": "quantitative"}, "y": {"field": "d", "type": "quantitative"},
   "shape": {"field": "s", "type": "nominal", "scale": {"domain": ["mean nuclear alignment", "modal nuclear alignment"], "range": ["M-1,0L1,0M0,-1L0,1M-0.7,-0.7L0.7,0.7M-0.7,0.7L0.7,-0.7", "circle"]}},
   "stroke": {"field": "s", "type": "nominal", "scale": {"domain": ["mean nuclear alignment", "modal nuclear alignment"], "range": ["#2020ff", "#ff1010"]}},
   "fill": {"field": "s", "type": "nominal", "scale": {"domain": ["mean nuclear alignment", "modal nuclear alignment"], "range": ["#2020ff", "#ff1010"]}}}},
  {"data": {"name": "P"}, "transform": [{"filter": "datum.p == '2.2' && datum.s == 'modal nuclear alignment'"}], "mark": {"type": "point", "size": 30, "strokeWidth": 1, "opacity": 1}, "encoding": {"x": {"field": "x", "type": "quantitative"}, "y": {"field": "d", "type": "quantitative"},
   "shape": {"field": "s", "type": "nominal", "scale": {"domain": ["mean nuclear alignment", "modal nuclear alignment"], "range": ["M-1,0L1,0M0,-1L0,1M-0.7,-0.7L0.7,0.7M-0.7,0.7L0.7,-0.7", "circle"]}},
   "stroke": {"field": "s", "type": "nominal", "scale": {"domain": ["mean nuclear alignment", "modal nuclear alignment"], "range": ["#2020ff", "#ff1010"]}},
   "fill": {"field": "s", "type": "nominal", "scale": {"domain": ["mean nuclear alignment", "modal nuclear alignment"], "range": ["#2020ff", "#ff1010"]}}}}
 ]},
 {"title": {"text": "3.4 mm² s⁻¹"}, "width": 297, "height": 203, "layer": [
  {"data": {"values": [{"d": 90}]}, "mark": {"type": "rule", "color": "#333", "strokeDash": [5, 3], "strokeWidth": 1}, "encoding": {"y": {"field": "d", "type": "quantitative", "scale": {"domain": [0, 180], "reverse": true, "nice": false}, "axis": {"values": [0, 30, 60, 90, 120, 150], "labelOverlap": false, "labelExpr": "datum.value == 0 ? '0' : datum.value == 90 ? '±90' : datum.value < 90 ? '−' + datum.value : '' + (180 - datum.value)", "labelPadding": 9, "title": "orientation (°)", "titlePadding": 18}}}},
  {"data": {"name": "L"}, "transform": [{"filter": "datum.p == '3.4'"}], "mark": {"type": "line", "strokeWidth": 3.5}, "encoding": {
   "x": {"field": "x", "type": "quantitative", "scale": {"domain": [0, 11], "nice": false, "zero": false}, "axis": {"values": [0, 2, 4, 6, 8, 10], "labelOverlap": false, "labelFlush": false, "title": "radial distance (mm)", "labelPadding": 19, "titlePadding": 8}},
   "y": {"field": "d", "type": "quantitative", "scale": {"domain": [0, 180], "reverse": true, "nice": false}, "axis": {"values": [0, 30, 60, 90, 120, 150], "labelOverlap": false, "labelExpr": "datum.value == 0 ? '0' : datum.value == 90 ? '±90' : datum.value < 90 ? '−' + datum.value : '' + (180 - datum.value)", "labelPadding": 9, "title": "orientation (°)", "titlePadding": 18}},
   "color": {"field": "s", "type": "nominal", "scale": {"domain": ["meanWSS", "modalWSS", "TransWSSmin", "CFlmin"], "range": ["#000000", "#22eeee", "#1ee61e", "#b58a2a"]}}
  }},
  {"data": {"name": "P"}, "transform": [{"filter": "datum.p == '3.4' && datum.s == 'mean nuclear alignment'"}], "mark": {"type": "point", "size": 90, "strokeWidth": 1.2, "opacity": 1}, "encoding": {"x": {"field": "x", "type": "quantitative"}, "y": {"field": "d", "type": "quantitative"},
   "shape": {"field": "s", "type": "nominal", "scale": {"domain": ["mean nuclear alignment", "modal nuclear alignment"], "range": ["M-1,0L1,0M0,-1L0,1M-0.7,-0.7L0.7,0.7M-0.7,0.7L0.7,-0.7", "circle"]}},
   "stroke": {"field": "s", "type": "nominal", "scale": {"domain": ["mean nuclear alignment", "modal nuclear alignment"], "range": ["#2020ff", "#ff1010"]}},
   "fill": {"field": "s", "type": "nominal", "scale": {"domain": ["mean nuclear alignment", "modal nuclear alignment"], "range": ["#2020ff", "#ff1010"]}}}},
  {"data": {"name": "P"}, "transform": [{"filter": "datum.p == '3.4' && datum.s == 'modal nuclear alignment'"}], "mark": {"type": "point", "size": 30, "strokeWidth": 1, "opacity": 1}, "encoding": {"x": {"field": "x", "type": "quantitative"}, "y": {"field": "d", "type": "quantitative"},
   "shape": {"field": "s", "type": "nominal", "scale": {"domain": ["mean nuclear alignment", "modal nuclear alignment"], "range": ["M-1,0L1,0M0,-1L0,1M-0.7,-0.7L0.7,0.7M-0.7,0.7L0.7,-0.7", "circle"]}},
   "stroke": {"field": "s", "type": "nominal", "scale": {"domain": ["mean nuclear alignment", "modal nuclear alignment"], "range": ["#2020ff", "#ff1010"]}},
   "fill": {"field": "s", "type": "nominal", "scale": {"domain": ["mean nuclear alignment", "modal nuclear alignment"], "range": ["#2020ff", "#ff1010"]}}}}
 ]},
 {"title": {"text": "4.0 mm² s⁻¹"}, "width": 297, "height": 203, "layer": [
  {"data": {"values": [{"d": 90}]}, "mark": {"type": "rule", "color": "#333", "strokeDash": [5, 3], "strokeWidth": 1}, "encoding": {"y": {"field": "d", "type": "quantitative", "scale": {"domain": [0, 180], "reverse": true, "nice": false}, "axis": {"values": [0, 30, 60, 90, 120, 150], "labelOverlap": false, "labelExpr": "datum.value == 0 ? '0' : datum.value == 90 ? '±90' : datum.value < 90 ? '−' + datum.value : '' + (180 - datum.value)", "labelPadding": 9, "title": "orientation (°)", "titlePadding": 18}}}},
  {"data": {"name": "L"}, "transform": [{"filter": "datum.p == '4.0'"}], "mark": {"type": "line", "strokeWidth": 3.5}, "encoding": {
   "x": {"field": "x", "type": "quantitative", "scale": {"domain": [0, 11], "nice": false, "zero": false}, "axis": {"values": [0, 2, 4, 6, 8, 10], "labelOverlap": false, "labelFlush": false, "title": "radial distance (mm)", "labelPadding": 19, "titlePadding": 8}},
   "y": {"field": "d", "type": "quantitative", "scale": {"domain": [0, 180], "reverse": true, "nice": false}, "axis": {"values": [0, 30, 60, 90, 120, 150], "labelOverlap": false, "labelExpr": "datum.value == 0 ? '0' : datum.value == 90 ? '±90' : datum.value < 90 ? '−' + datum.value : '' + (180 - datum.value)", "labelPadding": 9, "title": "orientation (°)", "titlePadding": 18}},
   "color": {"field": "s", "type": "nominal", "scale": {"domain": ["meanWSS", "modalWSS", "TransWSSmin", "CFlmin"], "range": ["#000000", "#22eeee", "#1ee61e", "#b58a2a"]}}
  }},
  {"data": {"name": "P"}, "transform": [{"filter": "datum.p == '4.0' && datum.s == 'mean nuclear alignment'"}], "mark": {"type": "point", "size": 90, "strokeWidth": 1.2, "opacity": 1}, "encoding": {"x": {"field": "x", "type": "quantitative"}, "y": {"field": "d", "type": "quantitative"},
   "shape": {"field": "s", "type": "nominal", "scale": {"domain": ["mean nuclear alignment", "modal nuclear alignment"], "range": ["M-1,0L1,0M0,-1L0,1M-0.7,-0.7L0.7,0.7M-0.7,0.7L0.7,-0.7", "circle"]}},
   "stroke": {"field": "s", "type": "nominal", "scale": {"domain": ["mean nuclear alignment", "modal nuclear alignment"], "range": ["#2020ff", "#ff1010"]}},
   "fill": {"field": "s", "type": "nominal", "scale": {"domain": ["mean nuclear alignment", "modal nuclear alignment"], "range": ["#2020ff", "#ff1010"]}}}},
  {"data": {"name": "P"}, "transform": [{"filter": "datum.p == '4.0' && datum.s == 'modal nuclear alignment'"}], "mark": {"type": "point", "size": 30, "strokeWidth": 1, "opacity": 1}, "encoding": {"x": {"field": "x", "type": "quantitative"}, "y": {"field": "d", "type": "quantitative"},
   "shape": {"field": "s", "type": "nominal", "scale": {"domain": ["mean nuclear alignment", "modal nuclear alignment"], "range": ["M-1,0L1,0M0,-1L0,1M-0.7,-0.7L0.7,0.7M-0.7,0.7L0.7,-0.7", "circle"]}},
   "stroke": {"field": "s", "type": "nominal", "scale": {"domain": ["mean nuclear alignment", "modal nuclear alignment"], "range": ["#2020ff", "#ff1010"]}},
   "fill": {"field": "s", "type": "nominal", "scale": {"domain": ["mean nuclear alignment", "modal nuclear alignment"], "range": ["#2020ff", "#ff1010"]}}}}
 ]}
]
}
